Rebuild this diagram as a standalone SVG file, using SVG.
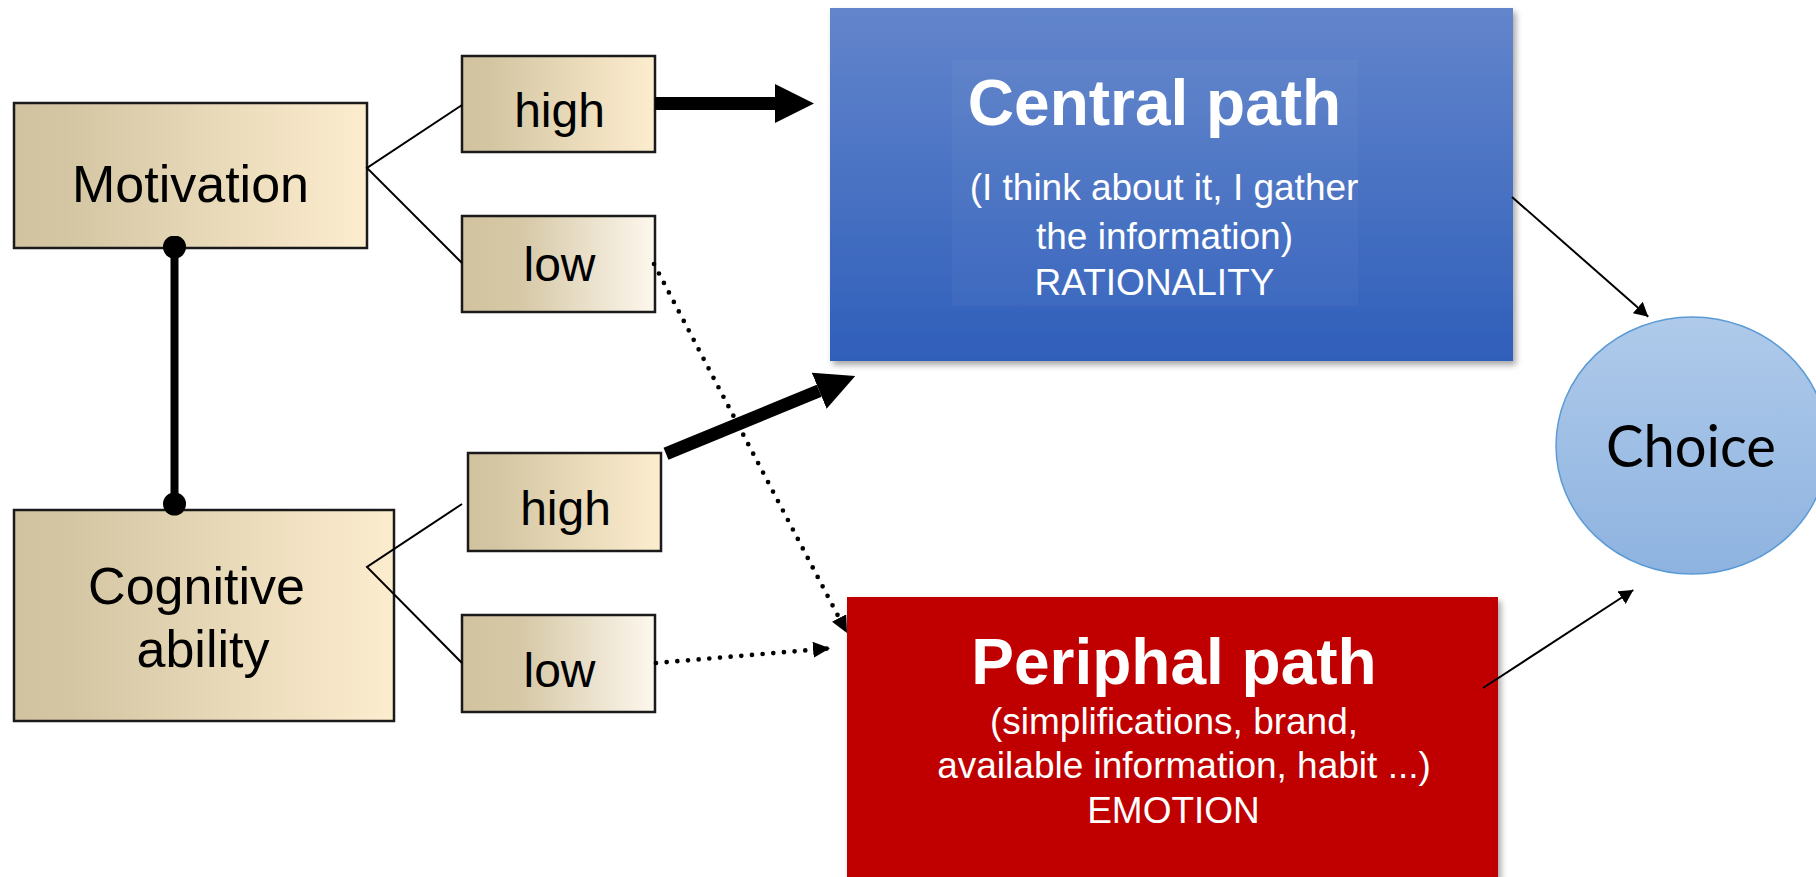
<svg xmlns="http://www.w3.org/2000/svg" width="1816" height="877" viewBox="0 0 1816 877">
  <defs>
    <linearGradient id="tan" x1="0" y1="0" x2="1" y2="0">
      <stop offset="0" stop-color="#d2c3a0"/>
      <stop offset="0.15" stop-color="#d4c6a3"/>
      <stop offset="1" stop-color="#fdedcf"/>
    </linearGradient>
    <linearGradient id="tanLight" x1="0" y1="0" x2="1" y2="0">
      <stop offset="0" stop-color="#d2c3a0"/>
      <stop offset="0.3" stop-color="#d6c8a6"/>
      <stop offset="1" stop-color="#fdf8ee"/>
    </linearGradient>
    <linearGradient id="blue" x1="0" y1="0" x2="0" y2="1">
      <stop offset="0" stop-color="#6385cc"/>
      <stop offset="1" stop-color="#2f5fba"/>
    </linearGradient>
    <linearGradient id="sky" x1="0" y1="0" x2="0" y2="1">
      <stop offset="0" stop-color="#afcaea"/>
      <stop offset="1" stop-color="#8eb3e0"/>
    </linearGradient>
    <filter id="shadow" x="-5%" y="-5%" width="115%" height="115%">
      <feDropShadow dx="3" dy="4" stdDeviation="3" flood-color="#000" flood-opacity="0.35"/>
    </filter>
    <marker id="bigHead" viewBox="0 0 10 10" markerWidth="3" markerHeight="3" refX="0" refY="5" orient="auto">
      <path d="M0,0 L10,5 L0,10 z" fill="#000"/>
    </marker>
    <marker id="thinHead" viewBox="0 0 10 10" markerUnits="userSpaceOnUse" markerWidth="14" markerHeight="15" refX="10" refY="5" orient="auto" preserveAspectRatio="none">
      <path d="M0,0 L10,5 L0,10 z" fill="#000"/>
    </marker>
    <marker id="dotHead" viewBox="0 0 10 10" markerUnits="userSpaceOnUse" markerWidth="17" markerHeight="16" refX="10" refY="5" orient="auto" preserveAspectRatio="none">
      <path d="M0,0 L10,5 L0,10 z" fill="#000"/>
    </marker>
    <marker id="knob" viewBox="0 0 10 10" markerUnits="userSpaceOnUse" markerWidth="23" markerHeight="23" refX="5" refY="5">
      <circle cx="5" cy="5" r="5" fill="#000"/>
    </marker>
  </defs>
  <style>
    .box { stroke: #1a1a1a; stroke-width: 2.5; }
    .lbl { font-family: "Liberation Sans", Arial, sans-serif; fill: #000; text-anchor: middle; }
    .big { font-size: 52px; }
    .mid { font-size: 48px; }
    .head { font-family: "Liberation Sans", Arial, sans-serif; font-weight: bold; font-size: 64px; fill: #fff; text-anchor: middle; }
    .sub { font-family: "Liberation Sans", Arial, sans-serif; font-size: 37px; fill: #fff; text-anchor: middle; }
    .thin { stroke: #000; stroke-width: 2; fill: none; }
    .dots { stroke: #000; stroke-width: 4.7; stroke-linecap: round; stroke-dasharray: 0 10.7; fill: none; }
    .thick { stroke: #000; stroke-width: 13; fill: none; }
  </style>

  <!-- main path boxes -->
  <g id="central">
    <rect x="830" y="8" width="683" height="353" fill="url(#blue)" filter="url(#shadow)"/>
    <rect x="952" y="60" width="406" height="246" fill="#ffffff" fill-opacity="0.03"/>
    <text class="head" x="1154.5" y="125">Central path</text>
    <text class="sub" x="1164" y="200">(I think about it, I gather</text>
    <text class="sub" x="1164.5" y="249">the information)</text>
    <text class="sub" x="1154.5" y="295">RATIONALITY</text>
  </g>

  <g id="peripheral">
    <rect x="847" y="597" width="651" height="300" fill="#c00000" filter="url(#shadow)"/>
    <text class="head" x="1174" y="684">Periphal path</text>
    <text class="sub" x="1174" y="734">(simplifications, brand,</text>
    <text class="sub" x="1184" y="778">available information, habit ...)</text>
    <text class="sub" x="1173.5" y="823">EMOTION</text>
  </g>

  <g id="choice">
    <ellipse cx="1692" cy="445.5" rx="136" ry="128.5" fill="url(#sky)" stroke="#5b9bd5" stroke-width="1.5"/>
    <text x="1691" y="467" font-family="Lato, 'Open Sans', sans-serif" font-size="58" text-anchor="middle" textLength="170" lengthAdjust="spacingAndGlyphs" fill="#000">Choice</text>
  </g>

  <!-- factor boxes -->
  <g id="motivation">
    <rect class="box" x="14" y="103" width="353" height="145" fill="url(#tan)"/>
    <text class="lbl big" x="190.5" y="202">Motivation</text>
  </g>
  <g id="motivation-high">
    <rect class="box" x="462" y="56" width="193" height="96" fill="url(#tan)"/>
    <text class="lbl mid" x="559.5" y="127">high</text>
  </g>
  <g id="motivation-low">
    <rect class="box" x="462" y="216" width="193" height="96" fill="url(#tanLight)"/>
    <text class="lbl mid" x="559.5" y="281">low</text>
  </g>
  <g id="cognitive">
    <rect class="box" x="14" y="510" width="380" height="211" fill="url(#tan)"/>
    <text class="lbl big" x="196.5" y="604">Cognitive</text>
    <text class="lbl big" x="203" y="667">ability</text>
  </g>
  <g id="cognitive-high">
    <rect class="box" x="468" y="453" width="193" height="98" fill="url(#tan)"/>
    <text class="lbl mid" x="565.5" y="525">high</text>
  </g>
  <g id="cognitive-low">
    <rect class="box" x="462" y="615" width="193" height="97" fill="url(#tanLight)"/>
    <text class="lbl mid" x="559.5" y="687">low</text>
  </g>

  <!-- connectors -->
  <g id="connectors">
    <line x1="174.5" y1="247" x2="174.5" y2="504" stroke="#000" stroke-width="8" marker-start="url(#knob)" marker-end="url(#knob)"/>
    <polyline class="thin" points="462,105 367,168 462,263"/>
    <polyline class="thin" points="462,504 367,567 462,663"/>
    <line class="thick" x1="655" y1="103.5" x2="775" y2="103.5" marker-end="url(#bigHead)"/>
    <line class="thick" x1="666" y1="453.7" x2="819.2" y2="390.8" marker-end="url(#bigHead)"/>
    <line class="dots" x1="654" y1="264" x2="847" y2="633" marker-end="url(#dotHead)"/>
    <line class="dots" x1="656" y1="663" x2="830" y2="648.3" marker-end="url(#dotHead)"/>
    <line class="thin" x1="1512" y1="197" x2="1648.3" y2="316.7" marker-end="url(#thinHead)"/>
    <line class="thin" x1="1483" y1="688" x2="1633.3" y2="590" marker-end="url(#thinHead)"/>
  </g>
</svg>
